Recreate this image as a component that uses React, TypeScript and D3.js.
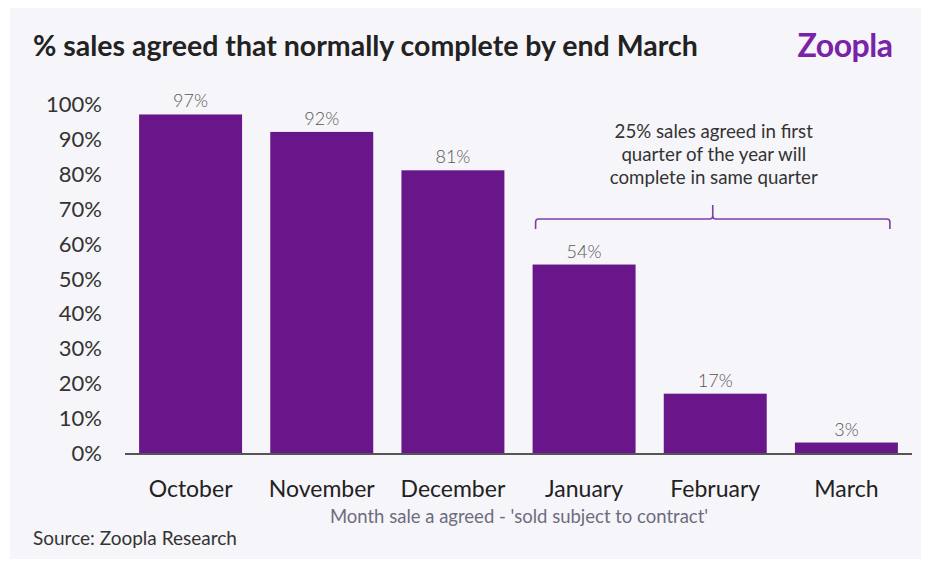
import React from "react";
import * as d3 from "d3";

const months = ["October", "November", "December", "January", "February", "March"];
const values = [97, 92, 81, 54, 17, 3];
const yTicks = [0, 10, 20, 30, 40, 50, 60, 70, 80, 90, 100];
const title = "% sales agreed that normally complete by end March";
const xTitle = "Month sale a agreed - 'sold subject to contract'";
const source = "Source: Zoopla Research";
const noteLines = ["25% sales agreed in first", "quarter of the year will", "complete in same quarter"];
const bracketMonths = ["January", "March"];

const W = 929;
const H = 562;
const FONT = "Lato, 'Open Sans', sans-serif";
const BAR = "#6a168b";
const PURPLE_LINE = "#7d3fa6";

export default function App() {
  const x = d3.scaleBand<string>().domain(months).range([125, 912]).paddingInner(0.215).paddingOuter(0.1075);
  const y = d3.scaleLinear().domain([0, 100]).range([453, 104]);

  const bx0 = (x(bracketMonths[0]) as number) + 3;
  const bx1 = (x(bracketMonths[1]) as number) + x.bandwidth() - 8;
  const bMid = (bx0 + bx1) / 2;
  const bY = 219;
  const r = 3;

  return (
    <svg
      width={W}
      height={H}
      style={{ position: "absolute", left: 0, top: 0, background: "#fff" }}
      fontFamily={FONT}
    >
      <rect x={10} y={8} width={911} height={551} fill="#f6f5f9" />
      <text x={33} y={56} fontSize={28.5} fontWeight={700} fill="#222">
        {title}
      </text>
      <text x={845} y={57} fontSize={32} fontWeight={700} fill="#7a22a8" textAnchor="middle" letterSpacing={-0.5}>
        Zoopla
      </text>

      {yTicks.map((t) => (
        <text key={t} x={102} y={y(t) + 8} fontSize={22} fill="#333" textAnchor="end">
          {t}%
        </text>
      ))}

      {months.map((m, i) => (
        <g key={m}>
          <rect x={x(m)} y={y(values[i])} width={x.bandwidth()} height={y(0) - y(values[i])} fill={BAR} />
          <text
            x={(x(m) as number) + x.bandwidth() / 2}
            y={y(values[i]) - 7}
            fontSize={18}
            fontWeight={300}
            fill="#555"
            textAnchor="middle"
          >
            {values[i]}%
          </text>
          <text
            x={(x(m) as number) + x.bandwidth() / 2}
            y={497}
            fontSize={23}
            fill="#222"
            textAnchor="middle"
          >
            {m}
          </text>
        </g>
      ))}

      <line x1={125} x2={912} y1={y(0) + 1} y2={y(0) + 1} stroke="#555" strokeWidth={2} />

      <text x={519} y={523} fontSize={18.5} fill="#6d6c80" textAnchor="middle">
        {xTitle}
      </text>
      <text x={33} y={545} fontSize={19} fill="#333">
        {source}
      </text>

      {noteLines.map((l, i) => (
        <text key={i} x={bMid + 1} y={138 + i * 23} fontSize={18.7} fill="#333" textAnchor="middle">
          {l}
        </text>
      ))}
      <path
        d={`M${bx0},${bY + 10} L${bx0},${bY + r} Q${bx0},${bY} ${bx0 + r},${bY} L${bMid - r},${bY} Q${bMid},${bY} ${bMid},${bY - r} L${bMid},${bY - 14} M${bMid},${bY - r} Q${bMid},${bY} ${bMid + r},${bY} L${bx1 - r},${bY} Q${bx1},${bY} ${bx1},${bY + r} L${bx1},${bY + 10}`}
        fill="none"
        stroke={PURPLE_LINE}
        strokeWidth={1.6}
      />
    </svg>
  );
}
